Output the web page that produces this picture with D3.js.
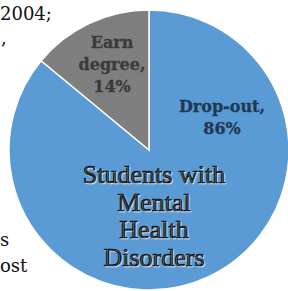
<!DOCTYPE html>
<html>
<head>
<meta charset="utf-8">
<script src="https://cdn.jsdelivr.net/npm/d3@7"></script>
<style>
  body { margin: 0; background: #fff; }
  svg { display: block; }
</style>
</head>
<body>
<div id="chart"></div>
<script>
// data
let categories = ["Drop-out", "Earn degree"];
let values = [86, 14];
let colors = ["#5b9bd5", "#7f7f7f"];
let labelColors = ["#1f3a55", "#3b3b3b"];
let centerLines = ["Students with", "Mental", "Health", "Disorders"];

let width = 288;
let height = 291;

let cx = 149, cy = 150, radius = 140;

let svg = d3.select("#chart")
  .append("svg")
  .attr("width", width)
  .attr("height", height);

// bits of the surrounding document text
let sideText = svg.append("g")
  .attr("font-family", "'DejaVu Serif', serif")
  .attr("font-size", "18px")
  .attr("fill", "#111");
sideText.append("text").attr("x", 0).attr("y", 20).text("2004;");
sideText.append("text").attr("x", 1).attr("y", 44).text(",");
sideText.append("text").attr("x", 0).attr("y", 246).text("s");
sideText.append("text").attr("x", 0).attr("y", 272).text("ost");

let chartGroup = svg.append("g")
  .attr("transform", `translate(${cx}, ${cy})`);

let pie = d3.pie().sort(null).value(d => d);
let arc = d3.arc().innerRadius(0).outerRadius(radius);

let slices = pie(values);

chartGroup.selectAll("path")
  .data(slices)
  .enter()
  .append("path")
  .attr("d", arc)
  .attr("fill", (d, i) => colors[i])
  .attr("stroke", "#fff")
  .attr("stroke-width", 1.5);

// slice labels
let labelPos = [[73, -38], [-37, -102]];
slices.forEach((d, i) => {
  let lines = i === 0
    ? [categories[0] + ",", values[0] + "%"]
    : ["Earn", "degree,", values[1] + "%"];
  let t = chartGroup.append("text")
    .attr("text-anchor", "middle")
    .attr("font-family", "'DejaVu Serif', serif")
    .attr("font-weight", "bold")
    .attr("font-size", "16px")
    .attr("fill", labelColors[i])
    .attr("stroke", labelColors[i])
    .attr("stroke-width", 0.3);
  lines.forEach((s, j) => {
    t.append("tspan")
      .attr("x", labelPos[i][0])
      .attr("y", labelPos[i][1] + j * 22)
      .text(s);
  });
});

// center title
let title = chartGroup.append("text")
  .attr("text-anchor", "middle")
  .attr("font-family", "'Liberation Serif', serif")
  .attr("font-size", "26px")
  .attr("fill", "#0a0a0a")
  .attr("stroke", "#0a0a0a")
  .attr("stroke-width", 0.7)
  .style("text-shadow", "1px 1px 1px rgba(255,255,255,0.7)");
centerLines.forEach((s, j) => {
  title.append("tspan")
    .attr("x", 5)
    .attr("y", 33 + j * 27.7)
    .text(s);
});
</script>
</body>
</html>
